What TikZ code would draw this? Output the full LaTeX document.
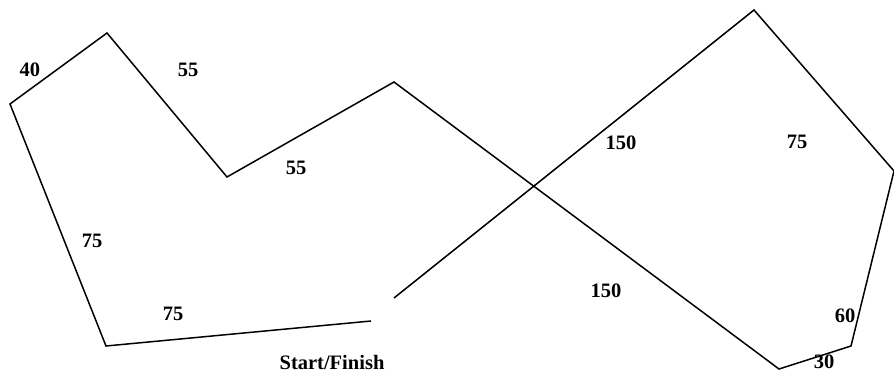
\documentclass[tikz,border=0pt]{standalone}
\usepackage{fontspec}
\setmainfont{Liberation Serif}
\begin{document}
\begin{tikzpicture}[x=1pt,y=-1pt,
  lbl/.style={inner sep=0pt,font=\fontsize{20.5}{22}\selectfont\bfseries},
  route/.style={line width=1.5pt,line join=miter}]
\useasboundingbox (0,0) rectangle (894,372);
\coordinate (s) at (394,298);
\coordinate (p1) at (754,10);
\coordinate (p2) at (894,171);
\coordinate (p3) at (851,346);
\coordinate (p4) at (779,369);
\coordinate (p5) at (394,82);
\coordinate (p6) at (227,177);
\coordinate (p7) at (107,33);
\coordinate (p8) at (10,104);
\coordinate (p9) at (106,346);
\coordinate (e) at (371,321);
\draw[route] (s) -- (p1) -- (p2) -- (p3) -- (p4) -- (p5) -- (p6) -- (p7) -- (p8) -- (p9) -- (e);
\node[lbl] (l40) at (30,70) {40};
\node[lbl] (l55a) at (188,70) {55};
\node[lbl] (l55b) at (296,168) {55};
\node[lbl] (l75a) at (92,241) {75};
\node[lbl] (l75b) at (173,314) {75};
\node[lbl] (l150a) at (621,143) {150};
\node[lbl] (l75c) at (797,142) {75};
\node[lbl] (l150b) at (606,291) {150};
\node[lbl] (l60) at (845,316) {60};
\node[lbl] (l30) at (824,362) {30};
\node[lbl] (sf) at (332,362) {Start/Finish};
\end{tikzpicture}
\end{document}
